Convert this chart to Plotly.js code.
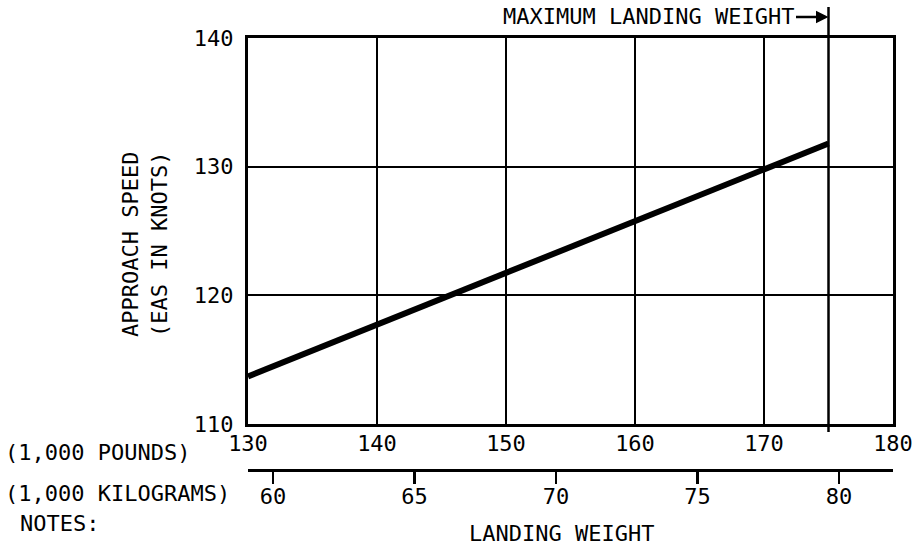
<!DOCTYPE html>
<html>
<head>
<meta charset="utf-8">
<script src="https://cdn.plot.ly/plotly-3.0.1.min.js"></script>
<style>
  html, body { margin: 0; padding: 0; background: #ffffff; }
  #chart { width: 912px; height: 549px; }
</style>
</head>
<body>
<div id="chart"></div>
<script>
// ---- data ----
const weightLb = [130, 140, 150, 160, 170, 175];          // 1,000 pounds
const approachSpeed = [113.7, 117.7, 121.8, 125.8, 129.8, 131.8]; // EAS knots
const lbTicks = [130, 140, 150, 160, 170, 180];
const speedTicks = [110, 120, 130, 140];
const kgTicks = [60, 65, 70, 75, 80];                     // 1,000 kilograms
const maxLandingWeightLb = 175;

const FONT = "DejaVu Sans Mono";
const fnt = {family: FONT, size: 22, color: "#000"};

// paper coordinate helpers: plot top 38px, paper bottom 470px
const H0 = 38, H1 = 470;
const py = p => (H1 - p) / (H1 - H0);
const W0 = 248, W1 = 893;
const px = p => (p - W0) / (W1 - W0);

const traces = [
  {
    x: weightLb, y: approachSpeed, type: "scatter", mode: "lines",
    line: {color: "#000", width: 6}, hoverinfo: "skip", showlegend: false,
    xaxis: "x", yaxis: "y"
  },
  {
    x: kgTicks, y: kgTicks.map(() => speedTicks[1]), type: "scatter", mode: "markers",
    marker: {opacity: 0}, hoverinfo: "skip", showlegend: false,
    xaxis: "x2", yaxis: "y"
  }
];

const m = maxLandingWeightLb;

const layout = {
  width: 912, height: 549,
  margin: {l: 248, r: 19, t: 38, b: 79},
  paper_bgcolor: "#fff", plot_bgcolor: "#fff",
  font: fnt,
  showlegend: false,
  xaxis: {
    range: [lbTicks[0], lbTicks[lbTicks.length - 1]],
    tickvals: lbTicks, ticktext: lbTicks.map(String),
    showgrid: true, gridcolor: "#000", gridwidth: 2,
    showline: true, linecolor: "#000", linewidth: 3, mirror: true,
    ticks: "", zeroline: false, tickfont: fnt, ticklabelstandoff: -2,
    ticklabeloverflow: "allow",
    anchor: "y", fixedrange: true
  },
  xaxis2: {
    range: [59.117, 81.908],
    tickvals: kgTicks, ticktext: kgTicks.map(String),
    overlaying: "x", anchor: "free", position: 0, side: "bottom",
    showgrid: false, zeroline: false,
    showline: true, linecolor: "#000", linewidth: 3,
    ticks: "outside", ticklen: 12, tickwidth: 2.5, tickcolor: "#000",
    tickfont: fnt, ticklabelstandoff: -6, ticklabeloverflow: "allow",
    fixedrange: true
  },
  yaxis: {
    range: [speedTicks[0], speedTicks[speedTicks.length - 1]],
    domain: [py(424), 1],
    tickvals: speedTicks, ticktext: speedTicks.map(String),
    showgrid: true, gridcolor: "#000", gridwidth: 2,
    showline: true, linecolor: "#000", linewidth: 3, mirror: true,
    ticks: "", zeroline: false, tickfont: fnt, ticklabelstandoff: 7,
    fixedrange: true
  },
  shapes: [
    {type: "line", xref: "x", yref: "paper", x0: m, x1: m, y0: py(7), y1: py(432),
     line: {color: "#000", width: 2.5}, layer: "above"}
  ],
  annotations: [
    {xref: "paper", yref: "paper", x: px(145), y: py(245), text: "APPROACH SPEED<br>(EAS IN KNOTS)",
     textangle: -90, showarrow: false, font: fnt, xanchor: "center", yanchor: "middle"},
    {xref: "paper", yref: "paper", x: px(3), y: py(452), text: "(1,000 POUNDS)",
     showarrow: false, font: fnt, xanchor: "left", yanchor: "middle"},
    {xref: "paper", yref: "paper", x: px(3), y: py(493), text: "(1,000 KILOGRAMS)",
     showarrow: false, font: fnt, xanchor: "left", yanchor: "middle"},
    {xref: "paper", yref: "paper", x: px(18), y: py(523), text: "NOTES:",
     showarrow: false, font: fnt, xanchor: "left", yanchor: "middle"},
    {xref: "paper", yref: "paper", x: px(561), y: py(533), text: "LANDING WEIGHT",
     showarrow: false, font: fnt, xanchor: "center", yanchor: "middle"},
    {xref: "paper", yref: "paper", x: px(796), y: py(17), text: "MAXIMUM LANDING WEIGHT",
     showarrow: false, font: fnt, xanchor: "right", yanchor: "middle"},
    {xref: "x", yref: "paper", x: maxLandingWeightLb, y: py(17), text: "",
     showarrow: true, ax: -34, ay: 0, arrowhead: 2, arrowsize: 1, arrowwidth: 2.5,
     arrowcolor: "#000", standoff: 0}
  ]
};

Plotly.newPlot("chart", traces, layout, {staticPlot: true, displayModeBar: false});
</script>
</body>
</html>
